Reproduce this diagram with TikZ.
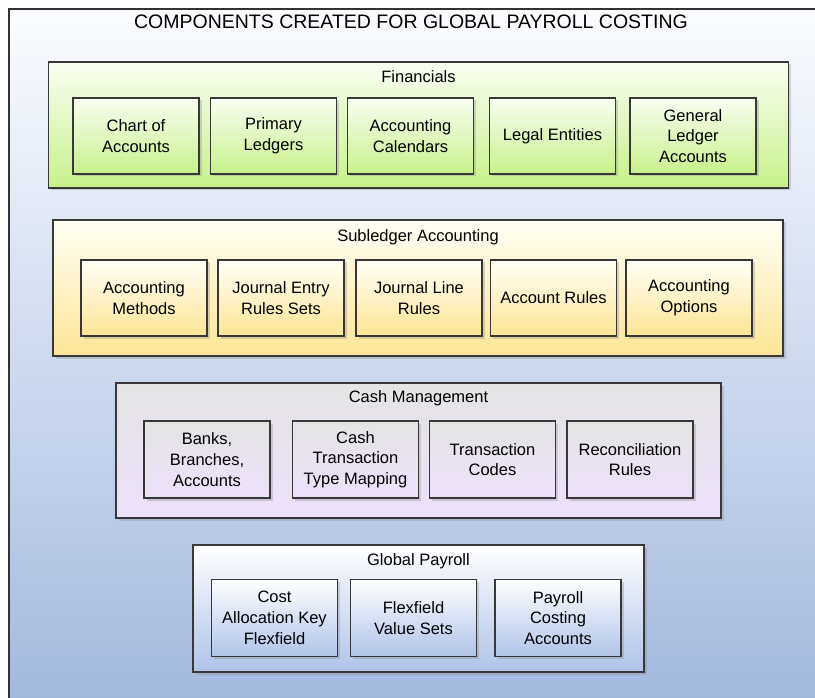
\documentclass[tikz,border=0pt]{standalone}
\usepackage{fontspec}
\setmainfont{Liberation Sans}
\usetikzlibrary{shadows,positioning}

\definecolor{bgtop}{RGB}{251,252,254}
\definecolor{bgbot}{RGB}{160,182,221}
\definecolor{fintop}{RGB}{249,254,242}
\definecolor{finbot}{RGB}{200,240,138}
\definecolor{subtop}{RGB}{255,255,246}
\definecolor{subbot}{RGB}{253,229,150}
\definecolor{cashtop}{RGB}{228,228,228}
\definecolor{cashbot}{RGB}{237,225,251}
\definecolor{paytop}{RGB}{255,255,255}
\definecolor{paybot}{RGB}{176,195,232}

\tikzset{
  grpbox/.style={draw=black!78, line width=1.4pt, inner sep=0pt,
    drop shadow={opacity=0.3, shadow xshift=2.5pt, shadow yshift=-2.5pt}},
  itembox/.style={grpbox, minimum width=126pt, align=center,
    font=\fontsize{16.5}{20.7}\selectfont},
  grplabel/.style={font=\fontsize{16.5}{19}\selectfont},
}

\begin{document}
\begin{tikzpicture}[x=1pt,y=-1pt]
\useasboundingbox (0,0) rectangle (815,698);
\clip (0,0) rectangle (815,698);
\fill[white] (0,0) rectangle (815,698);
\node[draw=black!80, line width=1.6pt, top color=bgtop, bottom color=bgbot, inner sep=0pt,
  minimum width=840pt, minimum height=720pt, anchor=north west] (frame) at (8,8) {};
\node[font=\fontsize{19.5}{22}\selectfont] (title) at (411,22) {COMPONENTS CREATED FOR GLOBAL PAYROLL COSTING};

\node[grpbox, top color=fintop, bottom color=finbot, minimum width=740pt, minimum height=126pt] (fin) at (418.5,125) {};
\node[grplabel] (finlbl) at (418.5,77) {Financials};
\foreach \x/\nm/\lbl in {136/coa/{Chart of\\Accounts}, 273.5/prl/{Primary\\Ledgers}, 410.5/acl/{Accounting\\Calendars},
  552.5/lge/{Legal Entities}, 693/gla/{General\\Ledger\\Accounts}}
  \node[itembox, minimum height=76pt, top color=fintop, bottom color=finbot] (\nm) at (\x,136) {\lbl};

\node[grpbox, top color=subtop, bottom color=subbot, minimum width=730pt, minimum height=136pt] (sla) at (418,288) {};
\node[grplabel] (slalbl) at (418,237) {Subledger Accounting};
\foreach \x/\nm/\lbl in {144/acm/{Accounting\\Methods}, 281/jrs/{Journal Entry\\Rules Sets}, 419/jlr/{Journal Line\\Rules},
  553.5/acr/{Account Rules}, 689/aco/{Accounting\\Options}}
  \node[itembox, minimum height=76pt, top color=subtop, bottom color=subbot] (\nm) at (\x,298) {\lbl};

\node[grpbox, top color=cashtop, bottom color=cashbot, minimum width=605pt, minimum height=135pt] (csh) at (418.5,450.5) {};
\node[grplabel] (cshlbl) at (418.5,398) {Cash Management};
\foreach \x/\nm/\lbl in {207/bnk/{Banks,\\Branches,\\Accounts}, 355.5/ctm/{Cash\\Transaction\\Type Mapping},
  492.5/trc/{Transaction\\Codes}, 630/rcr/{Reconciliation\\Rules}}
  \node[itembox, minimum height=77pt, top color=cashtop, bottom color=cashbot] (\nm) at (\x,459.5) {\lbl};

\node[grpbox, top color=paytop, bottom color=paybot, minimum width=451pt, minimum height=127pt] (pay) at (418.5,608.5) {};
\node[grplabel] (paylbl) at (418.5,561) {Global Payroll};
\foreach \x/\nm/\lbl in {274.5/cak/{Cost\\Allocation Key\\Flexfield}, 413.5/fvs/{Flexfield\\Value Sets},
  558/pca/{Payroll\\Costing\\Accounts}}
  \node[itembox, minimum height=77pt, top color=paytop, bottom color=paybot] (\nm) at (\x,618) {\lbl};
\end{tikzpicture}
\end{document}
